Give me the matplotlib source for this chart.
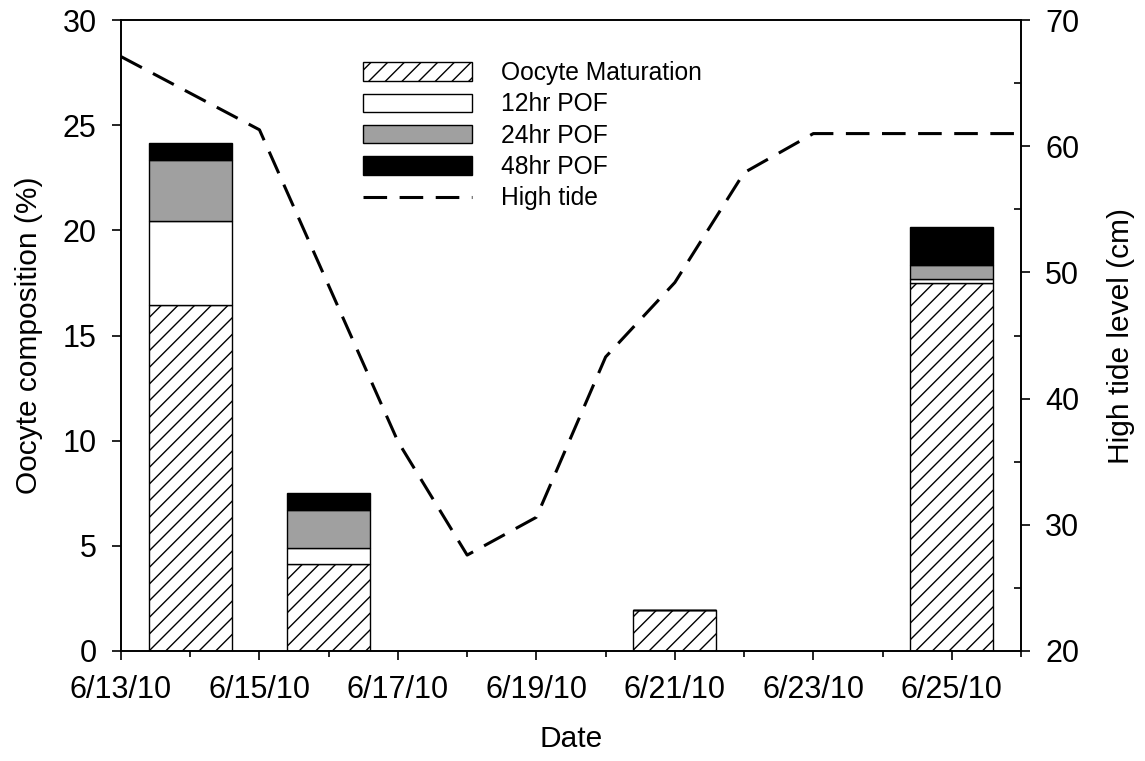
import datetime as dt
import matplotlib
matplotlib.use('Agg')
import matplotlib.pyplot as plt
import matplotlib.dates as mdates
from matplotlib.ticker import FuncFormatter, MultipleLocator

# bar data (oocyte composition, %)
bar_dates = ['2010-06-14', '2010-06-16', '2010-06-21', '2010-06-25']
oocyte_mat = [16.45, 4.12, 1.95, 17.48]
pof_12hr = [4.0, 0.76, 0.0, 0.2]
pof_24hr = [2.9, 1.82, 0.0, 0.67]
pof_48hr = [0.82, 0.83, 0.0, 1.83]

# high tide level (cm)
tide_dates = ['2010-06-13', '2010-06-15', '2010-06-17', '2010-06-18',
              '2010-06-19', '2010-06-20', '2010-06-21', '2010-06-22',
              '2010-06-23', '2010-06-26']
tide_level = [67.1, 61.3, 36.6, 27.6, 30.6, 43.3, 49.2, 57.9, 61.0, 61.0]

plt.rcParams['font.family'] = ['Liberation Sans', 'DejaVu Sans']
plt.rcParams['hatch.linewidth'] = 1.0
plt.rcParams['lines.scale_dashes'] = False


def to_date(s):
    return dt.datetime.strptime(s, '%Y-%m-%d')


def date_fmt(x, pos):
    d = mdates.num2date(x)
    return f'{d.month}/{d.day}/{d:%y}'


def main():
    bx = [to_date(s) for s in bar_dates]
    tx = [to_date(s) for s in tide_dates]

    fig = plt.figure(figsize=(11.45, 7.61), dpi=100)
    ax = fig.add_axes([121 / 1145, 1 - 651 / 761, 900 / 1145, 631 / 761])

    w = 1.2
    edge = dict(edgecolor='black', linewidth=1.0)
    b1 = ax.bar(bx, oocyte_mat, w, color='white', hatch='//',
                label='Oocyte Maturation', **edge)
    bot = list(oocyte_mat)
    b2 = ax.bar(bx, pof_12hr, w, bottom=bot, color='white',
                label='12hr POF', **edge)
    bot = [a + b for a, b in zip(bot, pof_12hr)]
    b3 = ax.bar(bx, pof_24hr, w, bottom=bot, color='#a0a0a0',
                label='24hr POF', **edge)
    bot = [a + b for a, b in zip(bot, pof_24hr)]
    b4 = ax.bar(bx, pof_48hr, w, bottom=bot, color='black',
                label='48hr POF', **edge)

    ax.set_xlim(to_date('2010-06-13'), to_date('2010-06-26'))
    ax.set_ylim(0, 30)
    ax.yaxis.set_major_locator(MultipleLocator(5))
    ax.xaxis.set_major_locator(mdates.DayLocator(bymonthday=range(13, 27, 2)))
    ax.xaxis.set_minor_locator(mdates.DayLocator())
    ax.xaxis.set_major_formatter(FuncFormatter(date_fmt))

    ax2 = ax.twinx()
    line, = ax2.plot(tx, tide_level, color='black', linewidth=2.2,
                     dashes=(17, 9), label='High tide')
    ax2.set_ylim(20, 70)
    ax2.yaxis.set_major_locator(MultipleLocator(10))
    ax2.yaxis.set_minor_locator(MultipleLocator(5))

    for a in (ax, ax2):
        for sp in a.spines.values():
            sp.set_linewidth(1.2)
        a.tick_params(which='major', direction='out', length=6.5, width=1.2,
                      labelsize=22, pad=11)
    ax.tick_params(axis='x', which='minor', direction='out', length=4,
                   width=1.2)
    ax2.tick_params(which='minor', direction='in', length=5, width=1.2)

    ax.set_xlabel('Date', fontsize=21.5)
    ax.set_ylabel('Oocyte composition (%)', fontsize=21.5)
    ax2.set_ylabel('High tide level (cm)', fontsize=21.5)
    ax.xaxis.set_label_coords(0.5, -0.118)
    ax.yaxis.set_label_coords(-0.087, 0.5)
    ax2.yaxis.set_label_coords(1.096, 0.5)

    ax2.legend([b1, b2, b3, b4, line],
               ['Oocyte Maturation', '12hr POF', '24hr POF', '48hr POF',
                'High tide'],
               loc='upper left', bbox_to_anchor=(363 / 1145, 1 - 61 / 761),
               bbox_transform=fig.transFigure, frameon=False, fontsize=17.7,
               borderpad=0, handlelength=4.45, handleheight=0.77,
               handletextpad=1.15, labelspacing=0.3, borderaxespad=0)

    fig.savefig('out.png', dpi=100)
    plt.close(fig)


if __name__ == '__main__':
    main()
